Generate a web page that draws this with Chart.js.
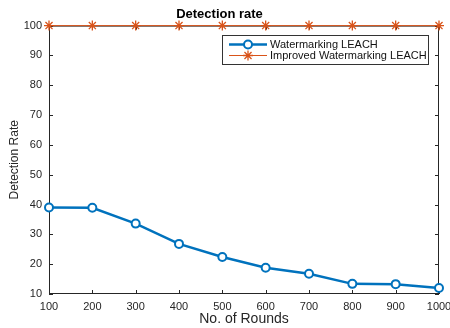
<!DOCTYPE html>
<html>
<head>
<meta charset="utf-8">
<script src="https://cdn.jsdelivr.net/npm/chart.js@4/dist/chart.umd.min.js"></script>
<style>
  html, body { margin: 0; padding: 0; background: #fff; }
  #wrap { width: 450px; height: 328px; }
</style>
</head>
<body>
<div id="wrap"><canvas id="chart"></canvas></div>
<script>
// data
const rounds = [100, 200, 300, 400, 500, 600, 700, 800, 900, 1000];
const watermarkingLeach = [39, 38.9, 33.6, 26.8, 22.4, 18.8, 16.8, 13.4, 13.3, 12];
const improvedLeach = [100, 100, 100, 100, 100, 100, 100, 100, 100, 100];

const axisColor = '#262626';
const fontFamily = '"Liberation Sans", Arial, sans-serif';

// MATLAB style box with inward ticks + legend inside the axes
const matlabBox = {
  id: 'matlabBox',
  beforeDatasetsDraw(chart) {
    const { ctx, chartArea: a, scales } = chart;
    ctx.save();
    ctx.strokeStyle = axisColor;
    ctx.lineWidth = 1;
    ctx.strokeRect(a.left + 0.5, a.top + 0.5, a.right - a.left - 1, a.bottom - a.top - 1);
    const len = 4;
    ctx.beginPath();
    scales.x.ticks.forEach(t => {
      const x = Math.round(scales.x.getPixelForValue(t.value)) + 0.5;
      ctx.moveTo(x, a.bottom); ctx.lineTo(x, a.bottom - len);
      ctx.moveTo(x, a.top); ctx.lineTo(x, a.top + len);
    });
    scales.y.ticks.forEach(t => {
      const y = Math.round(scales.y.getPixelForValue(t.value)) + 0.5;
      ctx.moveTo(a.left, y); ctx.lineTo(a.left + len, y);
      ctx.moveTo(a.right, y); ctx.lineTo(a.right - len, y);
    });
    ctx.stroke();
    ctx.restore();
  },
  afterDraw(chart) {
    const ctx = chart.ctx;
    ctx.save();
    const lx = 222, ly = 35, lw = 206, lh = 29;
    ctx.fillStyle = '#fff';
    ctx.fillRect(lx, ly, lw, lh);
    ctx.strokeStyle = '#333';
    ctx.lineWidth = 1;
    ctx.strokeRect(lx + 0.5, ly + 0.5, lw, lh);
    ctx.font = '11px ' + fontFamily;
    ctx.textBaseline = 'middle';
    chart.data.datasets.forEach((ds, i) => {
      const y = ly + 9.5 + i * 11;
      ctx.strokeStyle = ds.borderColor;
      ctx.lineWidth = ds.borderWidth;
      ctx.beginPath();
      ctx.moveTo(lx + 7, y); ctx.lineTo(lx + 45, y);
      ctx.stroke();
      ctx.fillStyle = ds.pointBackgroundColor || ds.borderColor;
      ctx.lineWidth = ds.pointBorderWidth;
      Chart.helpers.drawPoint(ctx, {
        pointStyle: ds.pointStyle,
        radius: ds.pointRadius,
        borderWidth: ds.pointBorderWidth,
        rotation: 0
      }, lx + 26, y);
      ctx.fillStyle = '#111';
      ctx.fillText(ds.label, lx + 48, y + 0.5);
    });
    ctx.restore();
  }
};

new Chart(document.getElementById('chart'), {
  type: 'line',
  data: {
    labels: rounds,
    datasets: [
      {
        label: 'Watermarking LEACH',
        data: watermarkingLeach,
        borderColor: '#0072BD',
        backgroundColor: '#ffffff',
        borderWidth: 2.5,
        pointStyle: 'circle',
        pointRadius: 4,
        pointBorderWidth: 2,
        pointBackgroundColor: '#ffffff',
        tension: 0,
        clip: false
      },
      {
        label: 'Improved Watermarking LEACH',
        data: improvedLeach,
        borderColor: '#D95319',
        backgroundColor: '#D95319',
        borderWidth: 1,
        pointStyle: 'star',
        pointRadius: 5,
        pointBorderWidth: 1.3,
        tension: 0,
        clip: false
      }
    ]
  },
  options: {
    responsive: true,
    maintainAspectRatio: false,
    animation: false,
    layout: { padding: { top: 0, right: 11, bottom: 0, left: 0 } },
    plugins: {
      legend: { display: false },
      tooltip: { enabled: false },
      title: {
        display: true,
        text: 'Detection rate',
        color: '#000',
        font: { family: fontFamily, size: 13, weight: 'bold' },
        padding: { top: 7, bottom: 3 }
      }
    },
    scales: {
      x: {
        type: 'linear',
        min: 100,
        max: 1000,
        grid: { display: false, drawTicks: false },
        border: { display: false },
        ticks: {
          stepSize: 100,
          color: axisColor,
          padding: 6,
          maxRotation: 0,
          callback: v => String(v),
          font: { family: fontFamily, size: 11 }
        },
        title: {
          display: true,
          text: 'No. of Rounds',
          color: axisColor,
          padding: 0,
          font: { family: fontFamily, size: 14 }
        },
        afterFit(scale) {
          scale.height = 34;
          scale.paddingRight = 0;
          scale.paddingLeft = 0;
        }
      },
      y: {
        min: 10,
        max: 100,
        grid: { display: false, drawTicks: false },
        border: { display: false },
        ticks: {
          stepSize: 10,
          color: axisColor,
          padding: 7,
          font: { family: fontFamily, size: 11 }
        },
        title: {
          display: true,
          text: 'Detection Rate',
          color: axisColor,
          padding: { top: 7, bottom: 0 },
          font: { family: fontFamily, size: 12 }
        },
        afterFit(scale) {
          scale.width = 49;
          scale.paddingTop = 0;
          scale.paddingBottom = 0;
        }
      }
    }
  },
  plugins: [matlabBox]
});
</script>
</body>
</html>
